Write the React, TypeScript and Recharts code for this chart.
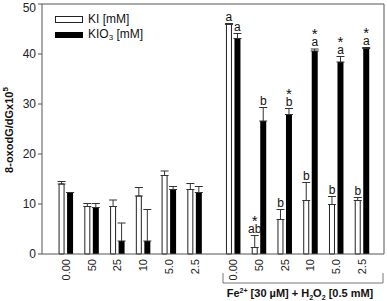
import { Bar, BarChart, ErrorBar, LabelList, Legend, ReferenceLine, XAxis, YAxis } from 'recharts';

const doses = ['0.00', '50', '25', '10', '5.0', '2.5', '0.00', '50', '25', '10', '5.0', '2.5'];
const kiValues = [14.0, 9.5, 9.5, 11.6, 15.7, 12.9, 45.9, 1.3, 6.9, 10.7, 9.9, 10.7];
const kiErrors = [0.5, 0.6, 1.3, 1.7, 0.9, 1.2, 0.2, 2.4, 2.0, 3.6, 1.6, 0.6];
const kioValues = [12.3, 9.3, 2.6, 2.6, 12.9, 12.3, 43.1, 26.6, 27.9, 40.6, 38.4, 41.1];
const kioErrors = [0, 0.8, 3.6, 6.3, 0.6, 1.2, 1.0, 2.7, 1.2, 0.4, 1.1, 0.2];
const kiMarks = ['', '', '', '', '', '', 'a', '*\nab', 'b', 'b', 'b', 'b'];
const kioMarks = ['', '', '', '', '', '', 'a', 'b', '*\nb', '*\na', '*\na', '*\na'];
const yTicks = [0, 10, 20, 30, 40, 50];

// groups from this index on are the Fe2+ + H2O2 treatments, drawn after a half-slot gap
const FIRST_TREATED = 6;
const FONT = '"Liberation Sans", Arial, sans-serif';
const AXIS = '#555';

const data = doses.map((dose, i) => ({
  pos: i < FIRST_TREATED ? i : i + 0.5,
  dose,
  ki: kiValues[i],
  kiErr: [0, kiErrors[i]],
  kiPad: kiErrors[i],
  kiMark: kiMarks[i],
  kio: kioValues[i],
  kioErr: [0, kioErrors[i]],
  kioPad: kioErrors[i],
  kioMark: kioMarks[i],
}));

const doseTicks = data.map((d) => d.pos);

const DoseTick = ({ x, y, payload }: any) => {
  const label = data.find((d) => d.pos === payload.value)?.dose ?? '';
  return (
    <text
      x={x}
      y={y}
      transform={`rotate(-90 ${x} ${y})`}
      textAnchor="end"
      dy="0.35em"
      fontSize={11}
      fontFamily={FONT}
      fill="#222"
    >
      {label}
    </text>
  );
};

// significance marks; a star sits on its own line above the letters
const MarkLabel = (props: any) => {
  const vb = props.viewBox ?? props;
  const value = String(props.value ?? '');
  if (!value) return null;
  const [top, letters] = value.includes('\n') ? value.split('\n') : ['', value];
  const cx = vb.x + vb.width / 2;
  const base = vb.y - 3;
  return (
    <text x={cx} y={base} textAnchor="middle" fontSize={12} fontFamily={FONT} fill="#111">
      {top && (
        <tspan x={cx} dy={-7} fontSize={15}>
          {top}
        </tspan>
      )}
      <tspan x={cx} dy={top ? 7 : 0}>
        {letters}
      </tspan>
    </text>
  );
};

const LegendContent = () => (
  <div style={{ fontFamily: FONT, fontSize: 12, color: '#111', lineHeight: '15px' }}>
    <div style={{ display: 'flex', alignItems: 'center' }}>
      <span
        style={{ width: 26, height: 5, border: '1px solid #222', background: '#fff', marginRight: 5, display: 'inline-block' }}
      />
      KI [mM]
    </div>
    <div style={{ display: 'flex', alignItems: 'center' }}>
      <span style={{ width: 28, height: 6, background: '#000', marginRight: 5, display: 'inline-block' }} />
      KIO<span style={{ fontSize: 8, position: 'relative', top: 3 }}>3</span>&nbsp;[mM]
    </div>
  </div>
);

const X_MIN = -0.93;
const X_MAX = 12.35;

export default function App() {
  return (
    <div style={{ position: 'absolute', left: 0, top: 0, width: 387, height: 301, background: '#fff' }}>
      <BarChart
        width={387}
        height={301}
        data={data}
        margin={{ top: 4, right: 3, left: 0, bottom: 0 }}
        barGap={3}
      >
        <XAxis
          dataKey="pos"
          type="number"
          domain={[X_MIN, X_MAX]}
          allowDataOverflow
          ticks={doseTicks}
          interval={0}
          tick={<DoseTick />}
          tickLine={false}
          tickSize={3}
          tickMargin={2}
          height={47}
          stroke={AXIS}
        />
        <YAxis
          domain={[0, 50]}
          ticks={yTicks}
          width={42}
          tickSize={4}
          tickMargin={2}
          stroke={AXIS}
          tick={{ fontSize: 12, fontFamily: FONT, fill: '#222' }}
          label={({ viewBox }: any) => {
            const cx = 13;
            const cy = viewBox.y + 126;
            return (
              <text
                x={cx}
                y={cy}
                transform={`rotate(-90 ${cx} ${cy})`}
                textAnchor="middle"
                fontSize={11}
                fontWeight="bold"
                fontFamily={FONT}
                fill="#111"
              >
                8-oxodG/dGx10
                <tspan dy={-5} fontSize={8}>
                  5
                </tspan>
              </text>
            );
          }}
        />
        <ReferenceLine y={50} stroke={AXIS} />
        <ReferenceLine x={X_MAX} stroke={AXIS} />
        <Legend
          layout="vertical"
          align="center"
          verticalAlign="middle"
          content={<LegendContent />}
          wrapperStyle={{ left: 55, top: 12, width: 120, height: 32 }}
        />
        <Bar dataKey="ki" stackId="ki" barSize={5} fill="#fff" stroke="#222" strokeWidth={1} isAnimationActive={false}>
          <ErrorBar dataKey="kiErr" direction="y" width={4} stroke="#333" strokeWidth={1} />
        </Bar>
        <Bar dataKey="kiPad" stackId="ki" barSize={5} fill="none" stroke="none" isAnimationActive={false}>
          <LabelList dataKey="kiMark" content={<MarkLabel />} />
        </Bar>
        <Bar dataKey="kio" stackId="kio" barSize={6} fill="#000" isAnimationActive={false}>
          <ErrorBar dataKey="kioErr" direction="y" width={4} stroke="#333" strokeWidth={1} />
        </Bar>
        <Bar dataKey="kioPad" stackId="kio" barSize={6} fill="none" stroke="none" isAnimationActive={false}>
          <LabelList dataKey="kioMark" content={<MarkLabel />} />
        </Bar>
      </BarChart>
      <svg
        width={387}
        height={301}
        style={{ position: 'absolute', left: 0, top: 0, pointerEvents: 'none' }}
      >
        <polyline points="223,273 223,283 383,283 383,273" fill="none" stroke="#777" strokeWidth={1} />
        <text x={300} y={297} textAnchor="middle" fontSize={11} fontWeight="bold" fontFamily={FONT} fill="#111">
          Fe
          <tspan dy={-4} fontSize={7}>
            2+
          </tspan>
          <tspan dy={4}> [30 µM] + H</tspan>
          <tspan dy={3} fontSize={7}>
            2
          </tspan>
          <tspan dy={-3}>O</tspan>
          <tspan dy={3} fontSize={7}>
            2
          </tspan>
          <tspan dy={-3}> [0.5 mM]</tspan>
        </text>
      </svg>
    </div>
  );
}
